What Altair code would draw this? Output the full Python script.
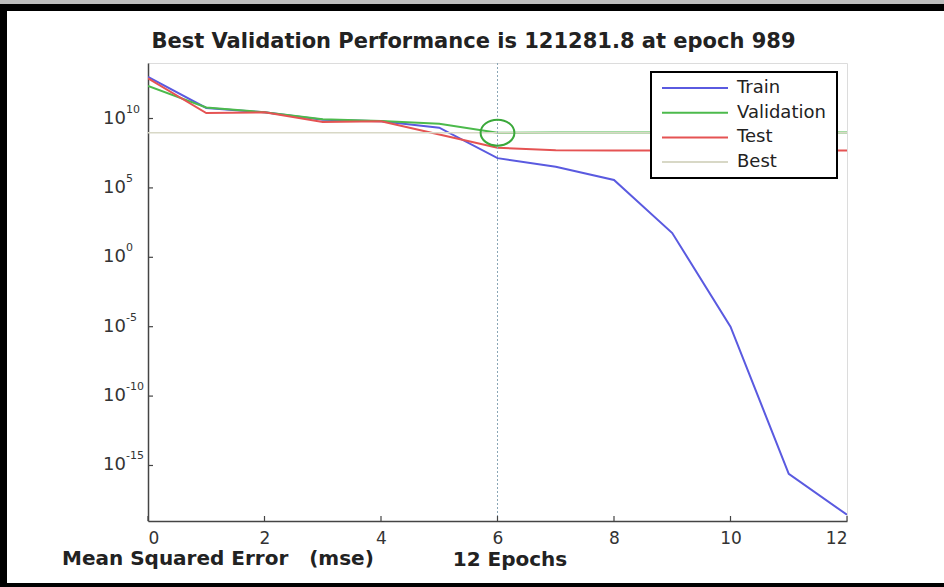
import altair as alt
import pandas as pd

# ---------------- data ----------------
epochs = [0, 1, 2, 3, 4, 5, 6, 7, 8, 9, 10, 11, 12]
train = [1.0e13, 5.8e10, 2.8e10, 8.3e9, 6.3e9, 2.2e9, 1.4e7, 3.4e6, 3.7e5, 56.0, 1.0e-5, 2.5e-16, 2.8e-19]
validation = [2.2e12, 6.3e10, 2.8e10, 8.9e9, 6.6e9, 4.2e9, 9.5e8, 1.0e9, 1.0e9, 1.0e9, 1.0e9, 1.0e9, 1.0e9]
test = [7.9e12, 2.5e10, 2.8e10, 5.6e9, 6.3e9, 7.1e8, 7.9e7, 5.2e7, 5.0e7, 5.0e7, 5.0e7, 5.0e7, 5.0e7]

series_names = ["Train", "Validation", "Test", "Best"]
series_colors = ["#5a5ae0", "#4cba4c", "#e55353", "#d8d8c6"]

best_epoch = [6]
best_value = [9.5e8]

x_ticks = [0, 2, 4, 6, 8, 10, 12]
y_tick_values = [1e10, 1e5, 1e0, 1e-5, 1e-10, 1e-15]
y_tick_base = ["10", "10", "10", "10", "10", "10"]
y_tick_exponents = ["10", "5", "0", "-5", "-10", "-15"]

title_text = "Best Validation Performance is 121281.8 at epoch 989"
x_title = "12 Epochs"
y_title = "Mean Squared Error\u00a0\u00a0\u00a0(mse)"

# ---------------- layout ----------------
W, H = 699, 458
PAD = {"left": 148, "top": 63, "right": 97, "bottom": 66}
FONT = "DejaVu Sans"

df_lines = pd.concat([
    pd.DataFrame({"epoch": epochs, "mse": train, "series": "Train"}),
    pd.DataFrame({"epoch": epochs, "mse": validation, "series": "Validation"}),
    pd.DataFrame({"epoch": epochs, "mse": test, "series": "Test"}),
])
df_best = pd.DataFrame({"epoch": best_epoch, "mse": best_value})
df_yt = pd.DataFrame({"v": y_tick_values, "base": y_tick_base, "exp": y_tick_exponents})
df_xt = pd.DataFrame({"e": x_ticks})
one = pd.DataFrame({"k": [0]})

xscale = alt.Scale(domain=[0, 12], nice=False, zero=False)
yscale = alt.Scale(type="log", domain=[1e-19, 1e14], nice=False)

x_axis = alt.Axis(values=x_ticks, format="d", labelFont=FONT, labelFontSize=17, labelColor="#333",
                  ticks=False, labelPadding=9, domainColor="#444", domainWidth=1.5,
                  grid=False, title=x_title, titleFont=FONT, titleFontWeight="bold",
                  titleFontSize=20, titleColor="#222", titleBaseline="alphabetic",
                  titleY=44, titleX=W / 2 + 12, titleAlign="center")
y_axis = alt.Axis(values=y_tick_values, labels=False, ticks=False, grid=False, title=None,
                  domainColor="#444", domainWidth=1.5)

best_h = alt.Chart(df_best).mark_rule(color=series_colors[3], strokeWidth=1.5).encode(
    y=alt.Y("mse:Q", scale=yscale))
best_v = alt.Chart(df_best).mark_rule(color="#8aa6b6", strokeWidth=1, strokeDash=[2, 2]).encode(
    x=alt.X("epoch:Q", scale=xscale))

lines = alt.Chart(df_lines).mark_line(strokeWidth=2, clip=True).encode(
    x=alt.X("epoch:Q", scale=xscale, axis=x_axis),
    y=alt.Y("mse:Q", scale=yscale, axis=y_axis),
    color=alt.Color("series:N", scale=alt.Scale(domain=series_names[:3], range=series_colors[:3]),
                    legend=None),
)

ellipse = "M -1.3 0 A 1.3 1 0 1 0 1.3 0 A 1.3 1 0 1 0 -1.3 0 Z"
circle = alt.Chart(df_best).mark_point(shape=ellipse, size=676, filled=False,
                                       color="#3aa83a", strokeWidth=2, opacity=1).encode(
    x=alt.X("epoch:Q", scale=xscale), y=alt.Y("mse:Q", scale=yscale))

ytick_marks = alt.Chart(df_yt).mark_rule(color="#444", strokeWidth=1.2).encode(
    y=alt.Y("v:Q", scale=yscale), x=alt.value(0), x2=alt.value(5))
xtick_marks = alt.Chart(df_xt).mark_rule(color="#444", strokeWidth=1.2).encode(
    x=alt.X("e:Q", scale=xscale), y=alt.value(H), y2=alt.value(H - 5))

ylab_base = alt.Chart(df_yt).mark_text(align="left", baseline="middle", font=FONT,
                                       fontSize=18, color="#333").encode(
    y=alt.Y("v:Q", scale=yscale), x=alt.value(-45), text="base:N")
ylab_exp = alt.Chart(df_yt).mark_text(align="left", baseline="middle", font=FONT,
                                      fontSize=11, color="#333", dy=-9).encode(
    y=alt.Y("v:Q", scale=yscale), x=alt.value(-45 + 23), text="exp:N")

ylabel = alt.Chart(pd.DataFrame({"t": [y_title]})).mark_text(
    align="left", baseline="alphabetic", font=FONT, fontSize=20, fontWeight="bold",
    color="#222").encode(x=alt.value(-86), y=alt.value(502), text="t:N")

title = alt.Chart(pd.DataFrame({"t": [title_text]})).mark_text(
    align="center", baseline="alphabetic", font=FONT, fontSize=21, fontWeight="bold",
    color="#222").encode(x=alt.value(W / 2 - 24), y=alt.value(-15), text="t:N")

# legend box
leg_box = alt.Chart(one).mark_rect(fill="white", stroke="black", strokeWidth=2).encode(
    x=alt.value(503), x2=alt.value(689), y=alt.value(9), y2=alt.value(115))
leg_layers = [leg_box]
for i, (name, col) in enumerate(zip(series_names, series_colors)):
    d = pd.DataFrame({"label": [name]})
    yy = 25 + 24.7 * i
    leg_layers.append(alt.Chart(d).mark_rule(color=col, strokeWidth=2).encode(
        x=alt.value(514), x2=alt.value(580), y=alt.value(yy)))
    leg_layers.append(alt.Chart(d).mark_text(align="left", baseline="middle", font=FONT,
                                             fontSize=18, color="#222").encode(
        x=alt.value(589), y=alt.value(yy), text="label:N"))

# outer frame (black bands of the picture)
frame = [
    alt.Chart(one).mark_rect(fill="#bdbdbd").encode(
        x=alt.value(-148), x2=alt.value(796), y=alt.value(-63), y2=alt.value(-59)),
    alt.Chart(one).mark_rect(fill="black").encode(
        x=alt.value(-148), x2=alt.value(796), y=alt.value(-59), y2=alt.value(-52)),
    alt.Chart(one).mark_rect(fill="black").encode(
        x=alt.value(-148), x2=alt.value(-141), y=alt.value(-59), y2=alt.value(524)),
    alt.Chart(one).mark_rect(fill="black").encode(
        x=alt.value(-148), x2=alt.value(796), y=alt.value(520), y2=alt.value(524)),
]

chart = alt.layer(
    lines, best_h, best_v, circle, ytick_marks, xtick_marks, ylab_base, ylab_exp, ylabel,
    title, *leg_layers, *frame
).properties(
    width=W, height=H, padding=PAD,
    autosize=alt.AutoSizeParams(type="none"),
    background="white",
).configure_view(stroke="#dcdcdc", strokeWidth=1)

chart.save("out.html", embed_options={"renderer": "svg", "actions": False})
